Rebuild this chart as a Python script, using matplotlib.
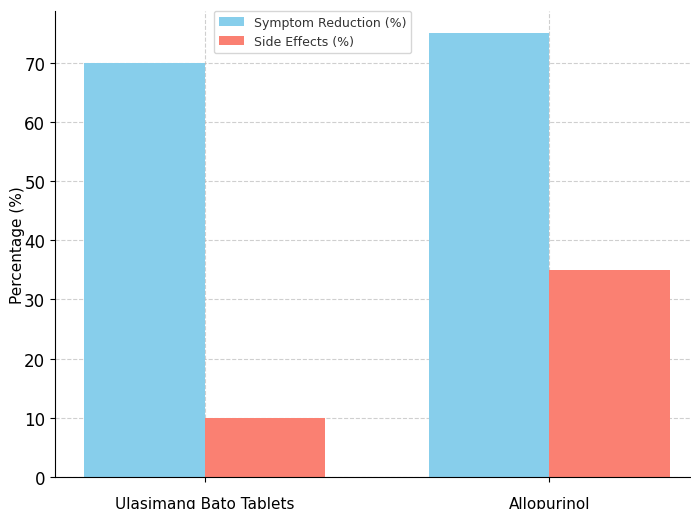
import matplotlib
matplotlib.use("Agg")
import matplotlib.pyplot as plt
import numpy as np

categories = ["Ulasimang Bato Tablets", "Allopurinol"]
symptom_reduction = [70, 75]
side_effects = [10, 35]
series_labels = ["Symptom Reduction (%)", "Side Effects (%)"]

fig = plt.figure(figsize=(6.91, 5.10), dpi=100)
ax = fig.add_axes([0.0796, 0.0627, 0.932, 0.914])

x = np.arange(len(categories))
w = 0.35
ax.bar(x - w/2, symptom_reduction, w, color="skyblue", label=series_labels[0], zorder=2)
ax.bar(x + w/2, side_effects, w, color="salmon", label=series_labels[1], zorder=2)

ax.set_xticks(x)
ax.set_xticklabels(categories, fontsize=11)
ax.tick_params(axis="x", pad=10)
ax.tick_params(axis="y", labelsize=12)
ax.set_ylabel("Percentage (%)", fontsize=11)
ax.yaxis.set_label_coords(-0.047, 0.5)
ax.set_yticks(range(0, 71, 10))
ax.grid(True, linestyle="--", alpha=0.6, zorder=0)
ax.set_axisbelow(True)
ax.spines["top"].set_visible(False)
ax.spines["right"].set_visible(False)
leg = ax.legend(loc="upper center", bbox_to_anchor=(0.40, 1.0), borderaxespad=0, fontsize=9)
for t in leg.get_texts():
    t.set_color("#333333")

fig.savefig("out.png", dpi=100)
